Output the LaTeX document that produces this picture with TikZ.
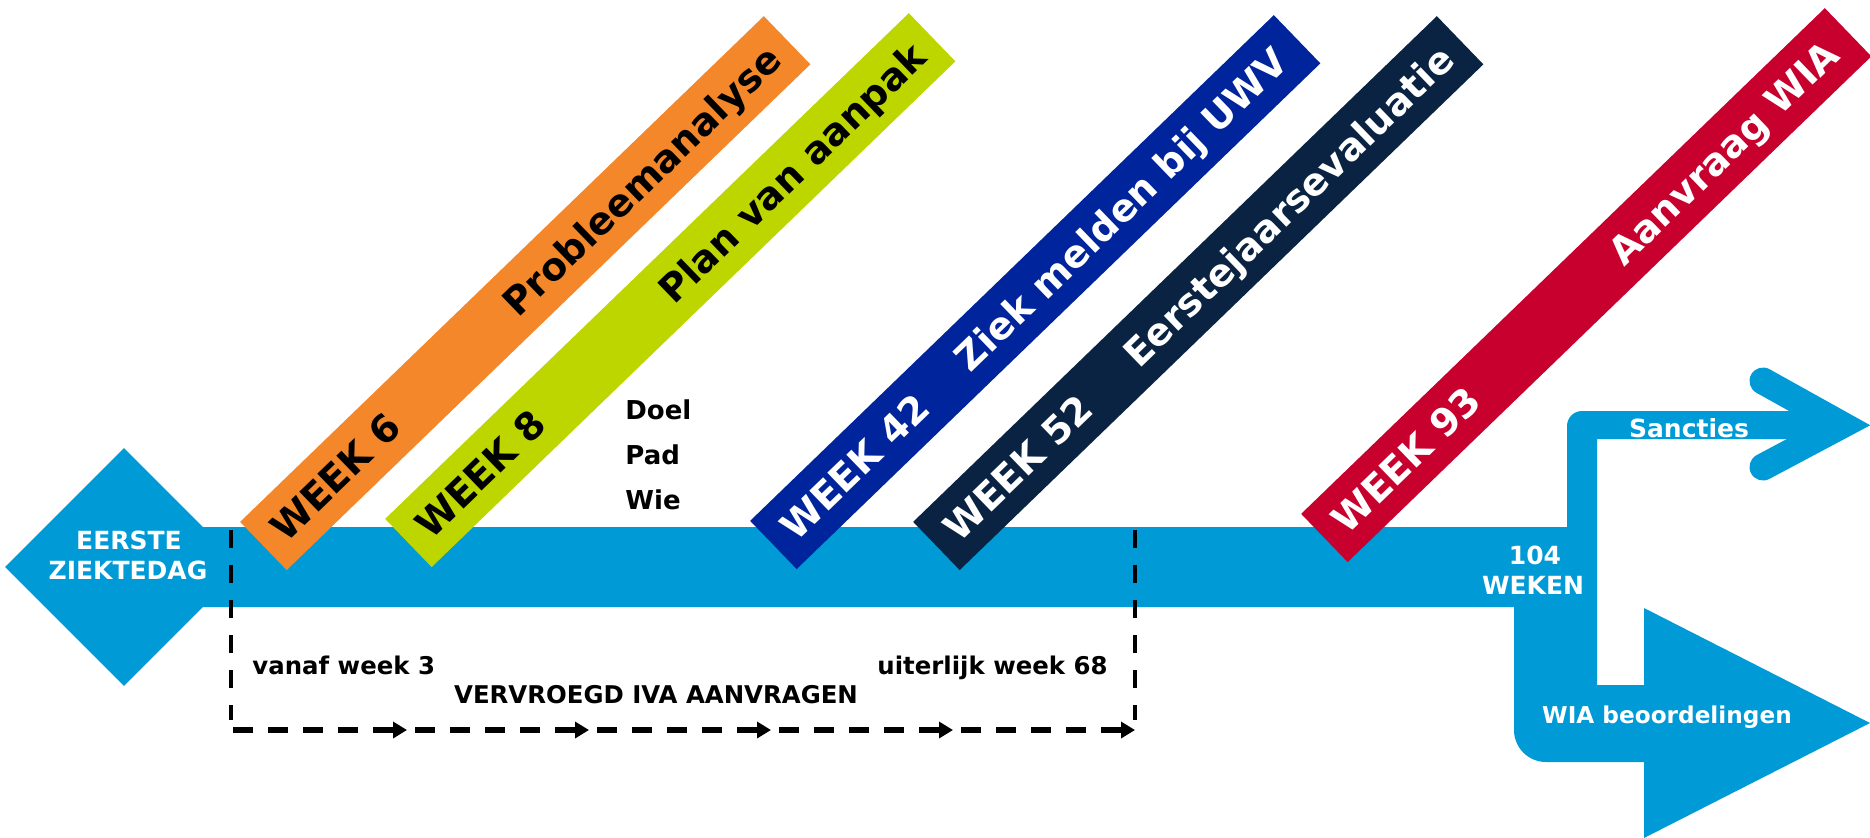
\documentclass[tikz,border=0pt]{standalone}
\usepackage{fontspec}
\setmainfont{DejaVu Sans}
\usetikzlibrary{shapes.geometric,arrows.meta,calc}
\definecolor{cyanbar}{HTML}{009AD7}
\definecolor{bandorange}{HTML}{F3872A}
\definecolor{bandlime}{HTML}{BED600}
\definecolor{bandblue}{HTML}{00249C}
\definecolor{bandnavy}{HTML}{0A2342}
\definecolor{bandred}{HTML}{C8002D}
\tikzset{
  band/.style={rotate=44, minimum width=364pt, minimum height=33.5pt, inner sep=0pt, outer sep=0pt},
  bandtxt/.style={rotate=44, inner sep=0pt, outer sep=0pt, font=\fontsize{19}{23}\selectfont\bfseries},
  whitetxt/.style={inner sep=0pt, text=white, font=\fontsize{12.5}{15}\selectfont\bfseries},
  darktxt/.style={inner sep=0pt, text=black, font=\fontsize{12.2}{15}\selectfont\bfseries},
  listtxt/.style={inner sep=0pt, text=black, font=\fontsize{13}{16}\selectfont\bfseries},
  vdash/.style={line width=2.2pt, dash pattern=on 9pt off 8.5pt},
  hdash/.style={line width=2.6pt, dash pattern=on 10pt off 7.5pt},
  harrow/.style={line width=2.6pt, -{Triangle[length=7pt,width=8pt]}}
}
\begin{document}
\begin{tikzpicture}[x=0.5pt, y=-0.5pt]
\useasboundingbox (0,0) rectangle (1870,837);
\path[clip] (0,0) rectangle (1870,837);

% start diamond
\node[diamond, fill=cyanbar, minimum width=119pt, minimum height=119pt, inner sep=0pt] (dia) at (124,567) {};

% main flow with branches
\fill[cyanbar] (124,527) -- (1567,527) -- (1567,426)
  .. controls (1567,417.7) and (1573.7,411) .. (1582,411)
  -- (1825,411) -- (1825,439) -- (1597,439) -- (1597,685) -- (1644,685)
  -- (1644,608) -- (1870,723) -- (1644,838) -- (1644,762) -- (1546,762)
  .. controls (1528.3,762) and (1514,747.7) .. (1514,730)
  -- (1514,607) -- (124,607) -- cycle;
\coordinate (chA) at (1763,381);
\coordinate (chV) at (1842,425);
\coordinate (chB) at (1763,467);
\draw[cyanbar, line width=13.5pt, line cap=round, line join=miter] (chA) -- (chV) -- (chB);

% texts on the flow
\node[whitetxt, anchor=base] (e1) at (129,549) {EERSTE};
\node[whitetxt, anchor=base] (e2) at (128,579) {ZIEKTEDAG};
\node[whitetxt, anchor=base] (w1) at (1535,564) {104};
\node[whitetxt, anchor=base] (w2) at (1533,594) {WEKEN};
\node[whitetxt, anchor=base] (sa) at (1689,437) {Sancties};
\node[whitetxt, anchor=base, font=\fontsize{11.6}{14}\selectfont\bfseries] (wb) at (1667,723) {WIA beoordelingen};

% diagonal bands
\node[band, fill=bandorange] (ob) at (525.25,293.1) {};
\node[band, fill=bandlime]   (gb) at (670.25,290.1) {};
\node[band, fill=bandblue]   (bb) at (1035.25,292.1) {};
\node[band, fill=bandnavy]   (nb) at (1198.25,293.1) {};
\node[band, fill=bandred]    (rb) at (1586.25,285.1) {};

\node[bandtxt, anchor=base west, text=black] (o1) at ($($(ob.west)!9pt!(ob.east)$)+(9.7,10.1)$) {WEEK 6};
\node[bandtxt, anchor=base east, text=black] (o2) at ($($(ob.east)!9pt!(ob.west)$)+(9.7,10.1)$) {Probleemanalyse};
\node[bandtxt, anchor=base west, text=black] (g1) at ($($(gb.west)!9pt!(gb.east)$)+(9.7,10.1)$) {WEEK 8};
\node[bandtxt, anchor=base east, text=black] (g2) at ($($(gb.east)!9pt!(gb.west)$)+(9.7,10.1)$) {Plan van aanpak};
\node[bandtxt, anchor=base west, text=white] (b1) at ($($(bb.west)!9pt!(bb.east)$)+(9.7,10.1)$) {WEEK 42};
\node[bandtxt, anchor=base east, text=white] (b2) at ($($(bb.east)!11pt!(bb.west)$)+(9.7,10.1)$) {Ziek melden bij UWV};
\node[bandtxt, anchor=base west, text=white] (n1) at ($($(nb.west)!9pt!(nb.east)$)+(9.7,10.1)$) {WEEK 52};
\node[bandtxt, anchor=base east, text=white] (n2) at ($($(nb.east)!9pt!(nb.west)$)+(9.7,10.1)$) {Eerstejaarsevaluatie};
\node[bandtxt, anchor=base west, text=white] (r1) at ($($(rb.west)!9pt!(rb.east)$)+(9.7,10.1)$) {WEEK 93};
\node[bandtxt, anchor=base east, text=white] (r2) at ($($(rb.east)!11pt!(rb.west)$)+(9.7,10.1)$) {Aanvraag WIA};

% Doel / Pad / Wie
\node[listtxt, anchor=base west] (l1) at (625,419) {Doel};
\node[listtxt, anchor=base west] (l2) at (625,464) {Pad};
\node[listtxt, anchor=base west] (l3) at (625,509) {Wie};

% dashed frame for IVA
\coordinate (vl0) at (231,530);
\coordinate (vl1) at (231,720);
\coordinate (vr0) at (1135,530);
\coordinate (vr1) at (1135,720);
\draw[vdash] (vl0) -- (vl1);
\draw[vdash] (vr0) -- (vr1);
\foreach \s [count=\i] in {233,415,597,779,961}{
  \coordinate (ds\i) at (\s,730);
  \coordinate (de\i) at ({\s+125},730);
  \coordinate (as\i) at ({\s+140},730);
  \coordinate (ae\i) at ({\s+174},730);
  \draw[hdash] (ds\i) -- (de\i);
  \draw[harrow] (as\i) -- (ae\i);
}
\node[darktxt, anchor=base west] (t1) at (252,674) {vanaf week 3};
\node[darktxt, anchor=base east] (t2) at (1108,674) {uiterlijk week 68};
\node[darktxt, anchor=base] (t3) at (656,703) {VERVROEGD IVA AANVRAGEN};
\end{tikzpicture}
\end{document}
